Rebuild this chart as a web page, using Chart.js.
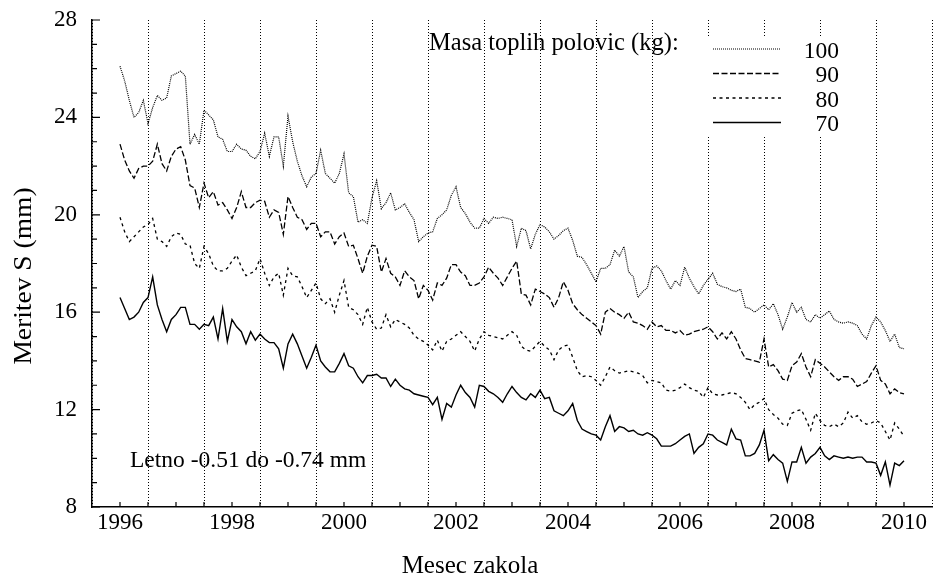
<!DOCTYPE html>
<html>
<head>
<meta charset="utf-8">
<script src="https://cdn.jsdelivr.net/npm/chart.js@4.4.1/dist/chart.umd.min.js"></script>
<style>
  body { margin: 0; background: #fff; }
  #wrap { width: 934px; height: 579px; }
</style>
</head>
<body>
<div id="wrap"><canvas id="chart" width="934" height="579"></canvas></div>
<script>
// monthly values, Jan 1996 .. Jan 2010
const startYear = 1996;
const yearTicks = [1996, 1998, 2000, 2002, 2004, 2006, 2008, 2010];
const seriesNames = ['100', '90', '80', '70'];

const mass100 = [26.1, 25.5, 24.7, 24.0, 24.2, 24.7, 23.75, 24.4, 24.9, 24.7, 24.8, 25.7,
  25.8, 25.9, 25.7, 22.9, 23.3, 22.9, 24.3, 24.1, 23.9, 23.2, 23.1, 22.6,
  22.6, 22.9, 22.7, 22.65, 22.4, 22.3, 22.6, 23.35, 22.4, 23.2, 23.2, 22.0,
  24.05, 23.0, 22.2, 21.6, 21.15, 21.55, 21.7, 22.65, 21.7, 21.5, 21.3, 21.7,
  22.5, 20.9, 20.75, 19.7, 19.8, 19.65, 20.7, 21.4, 20.25, 20.5, 20.9, 20.2,
  20.3, 20.45, 20.1, 19.8, 18.9, 19.1, 19.25, 19.3, 19.85, 20.0, 20.2, 20.8,
  21.15, 20.3, 20.05, 19.7, 19.45, 19.45, 19.85, 19.65, 19.9, 19.85, 19.9, 19.85,
  19.8, 18.7, 19.45, 19.35, 18.6, 19.2, 19.6, 19.5, 19.3, 19.0, 19.15, 19.35,
  19.45, 18.95, 18.3, 18.25, 17.95, 17.6, 17.25, 17.8, 17.8, 17.95, 18.55, 18.3,
  18.7, 17.65, 17.45, 16.6, 16.85, 17.0, 17.8, 17.9, 17.7, 17.3, 16.95, 17.3,
  17.1, 17.85, 17.4, 17.05, 16.75, 17.1, 17.35, 17.6, 17.15, 17.05, 17.0, 16.9,
  16.85, 16.95, 16.2, 16.15, 16.0, 16.15, 16.3, 16.1, 16.35, 15.9, 15.3, 15.8,
  16.4, 16.0, 16.2, 15.7, 15.6, 15.9, 15.75, 15.9, 16.05, 15.7, 15.6, 15.55,
  15.6, 15.55, 15.45, 15.1, 14.9, 15.45, 15.8, 15.6, 15.25, 14.8, 15.1, 14.55,
  14.5];

const mass90 = [22.9, 22.25, 21.8, 21.5, 21.9, 22.0, 22.0, 22.2, 22.9, 22.1, 21.8, 22.4,
  22.7, 22.8, 22.25, 21.2, 21.1, 20.3, 21.3, 20.7, 20.95, 20.4, 20.5, 20.2,
  19.85, 20.3, 20.95, 20.3, 20.3, 20.5, 20.6, 20.55, 19.9, 20.2, 20.1, 19.2,
  20.75, 20.3, 19.9, 19.8, 19.4, 19.65, 19.65, 19.1, 19.3, 19.3, 18.8, 19.1,
  19.25, 18.7, 18.75, 18.2, 17.6, 18.3, 18.75, 18.7, 17.65, 18.2, 17.6, 17.45,
  17.1, 17.7, 17.45, 17.3, 16.55, 17.1, 16.9, 16.5, 17.2, 17.1, 17.4, 17.95,
  17.95, 17.65, 17.5, 17.1, 17.1, 17.2, 17.45, 17.85, 17.6, 17.4, 17.1, 17.45,
  17.8, 18.1, 16.75, 16.7, 16.3, 16.95, 16.85, 16.75, 16.6, 16.2, 16.6, 17.25,
  16.9, 16.35, 16.1, 15.9, 15.75, 15.6, 15.45, 15.1, 16.0, 16.15, 16.0, 15.9,
  15.75, 16.0, 15.6, 15.55, 15.45, 15.3, 15.6, 15.4, 15.45, 15.25, 15.25, 15.15,
  15.25, 15.05, 15.1, 15.2, 15.25, 15.3, 15.4, 15.2, 14.9, 15.15, 14.9, 15.2,
  14.9, 14.45, 14.1, 14.05, 14.0, 13.95, 14.9, 13.75, 13.85, 13.6, 13.25, 13.2,
  13.8, 13.95, 14.3, 13.75, 13.35, 14.05, 13.9, 13.75, 13.55, 13.35, 13.2, 13.35,
  13.35, 13.25, 12.95, 13.05, 13.15, 13.5, 13.8, 13.2, 13.05, 12.65, 12.85, 12.7,
  12.65];

const mass80 = [19.9, 19.3, 18.9, 19.1, 19.3, 19.5, 19.6, 19.85, 19.0, 18.9, 18.7, 19.1,
  19.25, 19.2, 18.8, 18.75, 18.0, 17.8, 18.7, 18.4, 17.9, 17.7, 17.7, 17.8,
  18.1, 18.35, 17.85, 17.5, 17.6, 17.7, 18.2, 17.6, 17.1, 17.45, 17.6, 16.7,
  17.8, 17.5, 17.45, 17.05, 16.6, 16.9, 17.2, 16.55, 16.35, 16.55, 16.0, 16.7,
  17.3, 16.2, 16.1, 15.9, 15.5, 16.2, 15.6, 15.3, 15.35, 15.9, 15.4, 15.7,
  15.6, 15.5, 15.35, 15.05, 14.9, 14.8, 14.65, 14.45, 14.85, 14.4, 14.8, 14.9,
  15.05, 15.2, 15.0, 14.8, 14.4, 14.9, 15.2, 15.05, 15.0, 14.95, 14.9, 15.05,
  15.2, 15.05, 14.6, 14.45, 14.4, 14.6, 14.8, 14.6, 14.45, 14.05, 14.45, 14.6,
  14.65, 14.15, 13.6, 13.35, 13.4, 13.35, 13.2, 13.0, 13.35, 13.75, 13.6, 13.5,
  13.55, 13.6, 13.55, 13.5, 13.4, 13.1, 13.2, 13.15, 13.1, 12.8, 12.75, 12.8,
  12.9, 13.05, 12.9, 12.8, 12.75, 12.5, 12.9, 12.65, 12.6, 12.6, 12.65, 12.7,
  12.65, 12.5, 12.3, 12.0, 12.2, 12.3, 12.45, 12.0, 11.8, 11.65, 11.4, 11.35,
  11.85, 11.95, 12.0, 11.6, 11.15, 11.85, 11.55, 11.35, 11.3, 11.4, 11.3, 11.45,
  11.9, 11.65, 11.75, 11.5, 11.4, 11.45, 11.55, 11.45, 11.1, 10.75, 11.45, 11.2,
  10.9];

const mass70 = [16.6, 16.15, 15.7, 15.8, 16.0, 16.4, 16.6, 17.45, 16.3, 15.7, 15.2, 15.7,
  15.9, 16.2, 16.2, 15.5, 15.5, 15.3, 15.5, 15.45, 15.8, 14.9, 16.15, 14.8,
  15.7, 15.4, 15.2, 14.7, 15.2, 14.85, 15.1, 14.9, 14.75, 14.75, 14.5, 13.7,
  14.7, 15.1, 14.7, 14.2, 13.7, 14.15, 14.65, 14.0, 13.75, 13.55, 13.55, 13.9,
  14.3, 13.8, 13.7, 13.35, 13.1, 13.4, 13.4, 13.45, 13.3, 13.3, 12.95, 13.25,
  13.0, 12.85, 12.8, 12.65, 12.6, 12.55, 12.5, 12.2, 12.5, 11.6, 12.25, 12.1,
  12.6, 13.0, 12.7, 12.5, 12.1, 13.0, 12.95, 12.75, 12.65, 12.5, 12.3, 12.65,
  12.95, 12.7, 12.5, 12.4, 12.65, 12.5, 12.8, 12.45, 12.5, 11.95, 11.85, 11.75,
  11.95, 12.25, 11.55, 11.2, 11.1, 11.0, 10.95, 10.75, 11.3, 11.75, 11.1, 11.3,
  11.25, 11.1, 11.15, 11.0, 10.95, 11.05, 10.95, 10.8, 10.5, 10.5, 10.5, 10.6,
  10.75, 10.9, 11.0, 10.2, 10.45, 10.6, 11.0, 10.95, 10.75, 10.65, 10.55, 11.2,
  10.8, 10.75, 10.1, 10.1, 10.2, 10.55, 11.15, 9.9, 10.15, 9.95, 9.8, 9.05,
  9.85, 9.85, 10.45, 9.8, 10.05, 10.2, 10.45, 10.1, 9.95, 10.1, 10.05, 10.0,
  10.05, 10.0, 10.05, 10.05, 9.85, 9.85, 9.8, 9.3, 9.85, 8.9, 9.8, 9.7,
  9.9];

const seriesValues = [mass100, mass90, mass80, mass70];
const dashes = [[1, 1], [6, 2.5], [3, 3.5], []];
const widths = [1.2, 1.3, 1.3, 1.4];

const FONT = '"Liberation Serif", "Times New Roman", serif';

const toPoints = arr => arr.map((v, i) => ({ x: startYear + i / 12, y: v }));

const datasets = seriesValues.map((vals, k) => ({
  label: seriesNames[k],
  data: toPoints(vals),
  borderColor: '#000',
  borderWidth: widths[k],
  borderDash: dashes[k],
  pointRadius: 0,
  fill: false,
  tension: 0
}));

// inward tick marks, key box, key and free text
const decor = {
  id: 'decor',
  beforeDatasetsDraw(chart) {
    const ctx = chart.ctx;
    ctx.save();
    ctx.fillStyle = '#fff';
    ctx.fillRect(700, 37, 146, 98);
    ctx.restore();
  },
  afterDraw(chart) {
    const ctx = chart.ctx;
    const xs = chart.scales.x, ys = chart.scales.y;
    const area = chart.chartArea;
    ctx.save();
    ctx.strokeStyle = '#000';
    ctx.lineWidth = 1.2;
    ctx.beginPath();
    xs.ticks.forEach(t => {
      const px = xs.getPixelForValue(t.value);
      if (px <= area.left + 1 || px >= area.right - 1) return;
      ctx.moveTo(px, area.bottom);
      ctx.lineTo(px, area.bottom - 5);
    });
    ys.ticks.forEach(t => {
      const py = ys.getPixelForValue(t.value);
      const len = t.value % 4 === 0 ? 8 : 5;
      ctx.moveTo(area.left, py);
      ctx.lineTo(area.left + len, py);
    });
    ctx.stroke();

    // key
    ctx.fillStyle = '#000';
    ctx.font = '24.5px ' + FONT;
    ctx.textAlign = 'left';
    ctx.textBaseline = 'alphabetic';
    ctx.fillText('Masa toplih polovic (kg):', 429, 50);
    ctx.font = '23.5px ' + FONT;
    const rowY = [49, 73.5, 98, 122.5];
    seriesNames.forEach((name, k) => {
      ctx.beginPath();
      ctx.setLineDash(dashes[k]);
      ctx.lineWidth = widths[k];
      ctx.moveTo(713, rowY[k]);
      ctx.lineTo(781, rowY[k]);
      ctx.stroke();
      ctx.setLineDash([]);
      ctx.textAlign = 'right';
      ctx.fillText(name, 839, rowY[k] + 8.5);
    });

    ctx.textAlign = 'left';
    ctx.textBaseline = 'middle';
    ctx.fillText('Letno -0.51 do -0.74 mm', 130, 461);

    // axis titles
    ctx.font = '25px ' + FONT;
    ctx.textAlign = 'center';
    ctx.fillText('Mesec zakola', 470, 566);
    ctx.translate(24, 276);
    ctx.rotate(-Math.PI / 2);
    ctx.scale(1.1, 1);
    ctx.fillText('Meritev S (mm)', 0, 0);
    ctx.restore();
  }
};

new Chart(document.getElementById('chart'), {
  type: 'line',
  data: { datasets },
  options: {
    responsive: false,
    animation: false,
    layout: { padding: { top: 20, right: 1, left: 0, bottom: 0 } },
    plugins: { legend: { display: false }, tooltip: { enabled: false } },
    scales: {
      x: {
        type: 'linear',
        min: 1995.5,
        max: 2010.5,
        afterFit: s => { s.height = 72; },
        ticks: {
          stepSize: 0.5,
          autoSkip: false,
          maxRotation: 0,
          padding: 2,
          color: '#000',
          font: { family: FONT, size: 23 },
          callback: v => yearTicks.includes(v) ? String(v) : ''
        },
        grid: {
          drawTicks: false,
          lineWidth: 1,
          color: c => (c.tick && Math.abs(c.tick.value % 1 - 0.5) < 1e-6) ? '#000' : 'rgba(0,0,0,0)'
        },
        border: { display: true, color: '#000', width: 1.5, dash: [1, 2] }
      },
      y: {
        min: 8,
        max: 28,
        afterFit: s => { s.width = 92; s.paddingTop = 0; s.paddingBottom = 0; },
        ticks: {
          stepSize: 1,
          autoSkip: false,
          padding: 15,
          color: '#000',
          font: { family: FONT, size: 23, lineHeight: 0.8 },
          callback: v => v % 4 === 0 ? String(v) : ''
        },
        grid: { display: false, drawTicks: false },
        border: { display: true, color: '#000', width: 1.5 }
      }
    }
  },
  plugins: [decor]
});
</script>
</body>
</html>
